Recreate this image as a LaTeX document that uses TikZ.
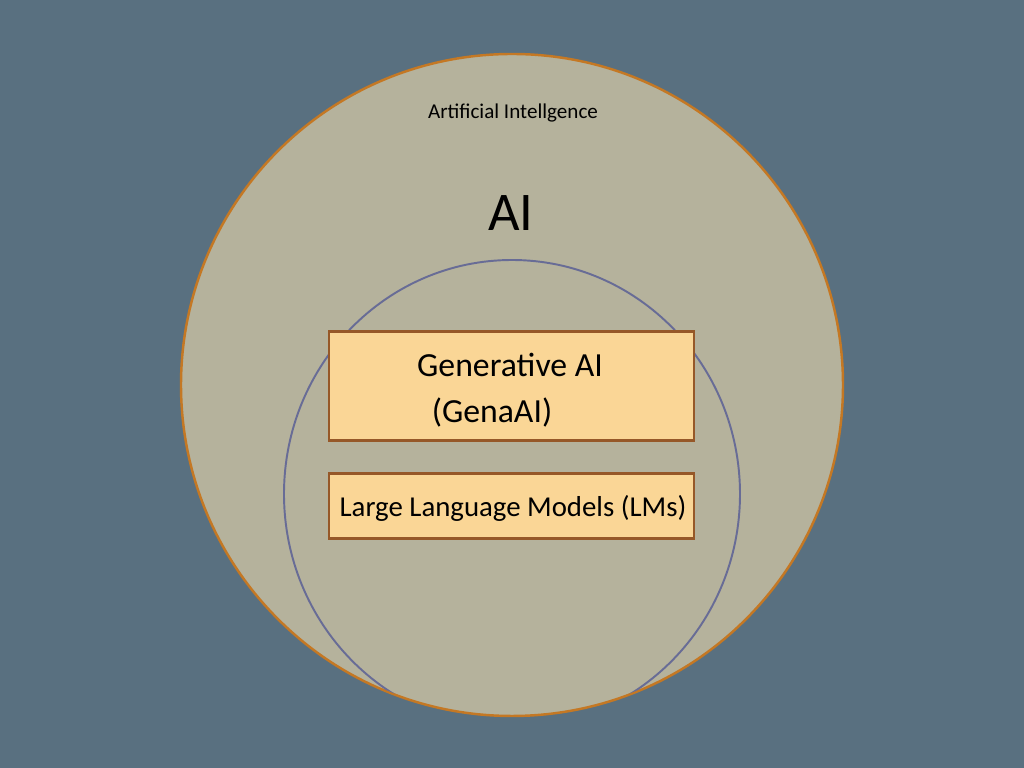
\documentclass[tikz,border=0pt]{standalone}
\usepackage{fontspec}
\setmainfont{Carlito}
\definecolor{bgslate}{RGB}{89,112,128}
\definecolor{aifill}{RGB}{181,178,156}
\definecolor{aiedge}{RGB}{196,120,36}
\definecolor{genring}{RGB}{104,108,150}
\definecolor{boxfill}{RGB}{250,214,150}
\definecolor{boxedge}{RGB}{150,88,40}
\begin{document}
\begin{tikzpicture}[
	boxlabel/.style={draw=boxedge, line width=0.85pt, fill=boxfill},
	plaintext/.style={inner sep=0pt, text=black}]
			%\draw[help lines, color=gray!30, dashed] (0,0) grid (10.24,7.68);
			\fill[bgslate] (0,0) rectangle (10.24,7.68);
			\useasboundingbox (0,0) rectangle (10.24,7.68);
			\filldraw[fill=aifill, draw=aiedge, line width=0.7pt] (5.12,3.83) circle (3.31cm);
			\begin{scope}
				\clip (5.12,3.83) circle (3.30cm);
				\draw[genring, line width=0.55pt] (5.12,2.74) ellipse (2.28cm and 2.34cm);
			\end{scope}
			\draw[boxlabel] (3.29,3.27) rectangle (6.94,4.36);
			\draw[boxlabel] (3.29,2.29) rectangle (6.94,2.94);
			\node[plaintext, font=\fontsize{6.0}{7}\selectfont] (ainame) at (5.13,6.55) {Artificial Intellgence};
			\node[plaintext, font=\fontsize{15.5}{18}\selectfont] (aiabbr) at (5.11,5.55) {AI};
			\node[plaintext, font=\fontsize{9.6}{11}\selectfont] (genname) at (5.10,4.03) {Generative AI};
			\node[plaintext, font=\fontsize{9.6}{11}\selectfont] (genabbr) at (4.92,3.55) {(GenaAI)};
			\node[plaintext, font=\fontsize{8.2}{10}\selectfont] (llmname) at (5.13,2.60) {Large Language Models (LMs)};
\end{tikzpicture}
\end{document}
